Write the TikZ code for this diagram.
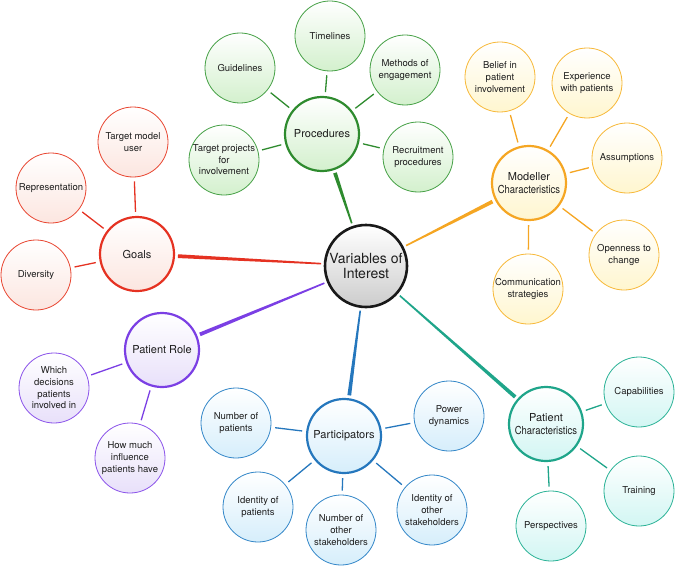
\documentclass[tikz,border=0pt]{standalone}
\usepackage{fontspec}
\setmainfont{TeX Gyre Heros}
\usetikzlibrary{calc}
\definecolor{cgreen}{HTML}{2E8B2E}
\definecolor{cgreenL}{HTML}{45A045}
\definecolor{cgreenF}{HTML}{D3F0CD}
\definecolor{corange}{HTML}{F5A623}
\definecolor{corangeL}{HTML}{F7B838}
\definecolor{corangeF}{HTML}{FFF6CF}
\definecolor{cred}{HTML}{E53222}
\definecolor{credL}{HTML}{E8442F}
\definecolor{credF}{HTML}{FCE6E0}
\definecolor{cpurple}{HTML}{7B3FE4}
\definecolor{cpurpleL}{HTML}{8A52EA}
\definecolor{cpurpleF}{HTML}{E8E0FA}
\definecolor{cblue}{HTML}{2577BD}
\definecolor{cblueL}{HTML}{3286C8}
\definecolor{cblueF}{HTML}{D6EEFB}
\definecolor{cteal}{HTML}{1FA58A}
\definecolor{ctealL}{HTML}{2AB296}
\definecolor{ctealF}{HTML}{D2F6F3}
\definecolor{ctext}{HTML}{1E1E1E}
\newcommand{\branchline}[3]{%
  \coordinate (bs) at ($(#2)!45pt!(#3)$);
  \coordinate (be) at ($(#3)!41pt!(#2)$);
  \fill[#1] ($(bs)!0.8pt!90:(be)$) -- ($(be)!1.9pt!-90:(bs)$) -- ($(be)!1.9pt!90:(bs)$) -- ($(bs)!0.8pt!-90:(be)$) -- cycle;
}
\tikzset{
  leaf/.style 2 args={circle, minimum size=70pt, inner sep=0pt, align=center,
    font=\fontsize{9.5}{11.6}\selectfont, text=ctext, line width=0.8pt,
    draw=#1, top color=white, bottom color=#2},
  hub/.style 2 args={circle, minimum size=74pt, inner sep=0pt, align=center,
    font=\fontsize{11}{13.3}\selectfont, text=ctext, line width=2.2pt,
    draw=#1, top color=white, bottom color=#2},
  centre/.style={circle, minimum size=82pt, inner sep=0pt, align=center,
    font=\fontsize{14}{15.5}\selectfont, text=ctext, line width=2.6pt,
    draw=black!90, top color=white, bottom color=black!20},
  link/.style={line width=1.3pt, shorten <=4pt, shorten >=4pt},
}
\newcommand{\charac}{\scalebox{0.86}[1]{Characteristics}}
\begin{document}
\begin{tikzpicture}[x=1pt,y=-1pt]
\useasboundingbox (0,0) rectangle (676,567);
% centre and hubs
\node[centre] (c) at (366,266) {Variables of\\Interest};
\node[hub={cgreen}{cgreenF}] (proc) at (322,134) {Procedures};
\node[hub={corange}{corangeF}] (mod) at (529,183) {Modeller\\\charac};
\node[hub={cred}{credF}] (goals) at (137,254) {Goals};
\node[hub={cpurple}{cpurpleF}] (role) at (162,350) {Patient Role};
\node[hub={cblue}{cblueF}] (part) at (344,436) {Participators};
\node[hub={cteal}{ctealF}] (pch) at (546,424) {Patient\\\charac};
% branches
\begin{scope}[on background layer/.style={}]
\end{scope}
\branchline{cgreen}{c}{proc}
\branchline{corange}{c}{mod}
\branchline{cred}{c}{goals}
\branchline{cpurple}{c}{role}
\branchline{cblue}{c}{part}
\branchline{cteal}{c}{pch}
% procedures leaves
\node[leaf={cgreenL}{cgreenF}] (guide) at (240,68) {Guidelines};
\node[leaf={cgreenL}{cgreenF}] (time) at (330,36) {Timelines};
\node[leaf={cgreenL}{cgreenF}] (meth) at (405,70) {Methods of\\engagement};
\node[leaf={cgreenL}{cgreenF}] (targ) at (224,160) {Target projects\\for\\involvement};
\node[leaf={cgreenL}{cgreenF}] (recr) at (418,157) {Recruitment\\procedures};
\foreach \n in {guide,time,meth,targ,recr} \draw[link,cgreen] (proc) -- (\n);
% modeller leaves
\node[leaf={corangeL}{corangeF}] (belief) at (500,77) {Belief in\\patient\\involvement};
\node[leaf={corangeL}{corangeF}] (exper) at (587,83) {Experience\\with patients};
\node[leaf={corangeL}{corangeF}] (assum) at (627,158) {Assumptions};
\node[leaf={corangeL}{corangeF}] (open) at (624,255) {Openness to\\change};
\node[leaf={corangeL}{corangeF}] (comm) at (528,289) {Communication\\strategies};
\foreach \n in {belief,exper,assum,open,comm} \draw[link,corange] (mod) -- (\n);
% goals leaves
\node[leaf={credL}{credF}] (tmu) at (133,142) {Target model\\user};
\node[leaf={credL}{credF}] (repr) at (51,188) {Representation};
\node[leaf={credL}{credF}] (div) at (36,275) {Diversity};
\foreach \n in {tmu,repr,div} \draw[link,cred] (goals) -- (\n);
% patient role leaves
\node[leaf={cpurpleL}{cpurpleF}] (which) at (54,388) {Which\\decisions\\patients\\involved in};
\node[leaf={cpurpleL}{cpurpleF}] (howm) at (130,458) {How much\\influence\\patients have};
\foreach \n in {which,howm} \draw[link,cpurple] (role) -- (\n);
% participators leaves
\node[leaf={cblueL}{cblueF}] (nump) at (236,423) {Number of\\patients};
\node[leaf={cblueL}{cblueF}] (idp) at (258,507) {Identity of\\patients};
\node[leaf={cblueL}{cblueF}] (numo) at (341,530) {Number of\\other\\stakeholders};
\node[leaf={cblueL}{cblueF}] (ido) at (432,510) {Identity of\\other\\stakeholders};
\node[leaf={cblueL}{cblueF}] (power) at (449,416) {Power\\dynamics};
\foreach \n in {nump,idp,numo,ido,power} \draw[link,cblue] (part) -- (\n);
% patient characteristics leaves
\node[leaf={ctealL}{ctealF}] (capa) at (639,392) {Capabilities};
\node[leaf={ctealL}{ctealF}] (train) at (639,491) {Training};
\node[leaf={ctealL}{ctealF}] (persp) at (551,526) {Perspectives};
\foreach \n in {capa,train,persp} \draw[link,cteal] (pch) -- (\n);
\end{tikzpicture}
\end{document}
